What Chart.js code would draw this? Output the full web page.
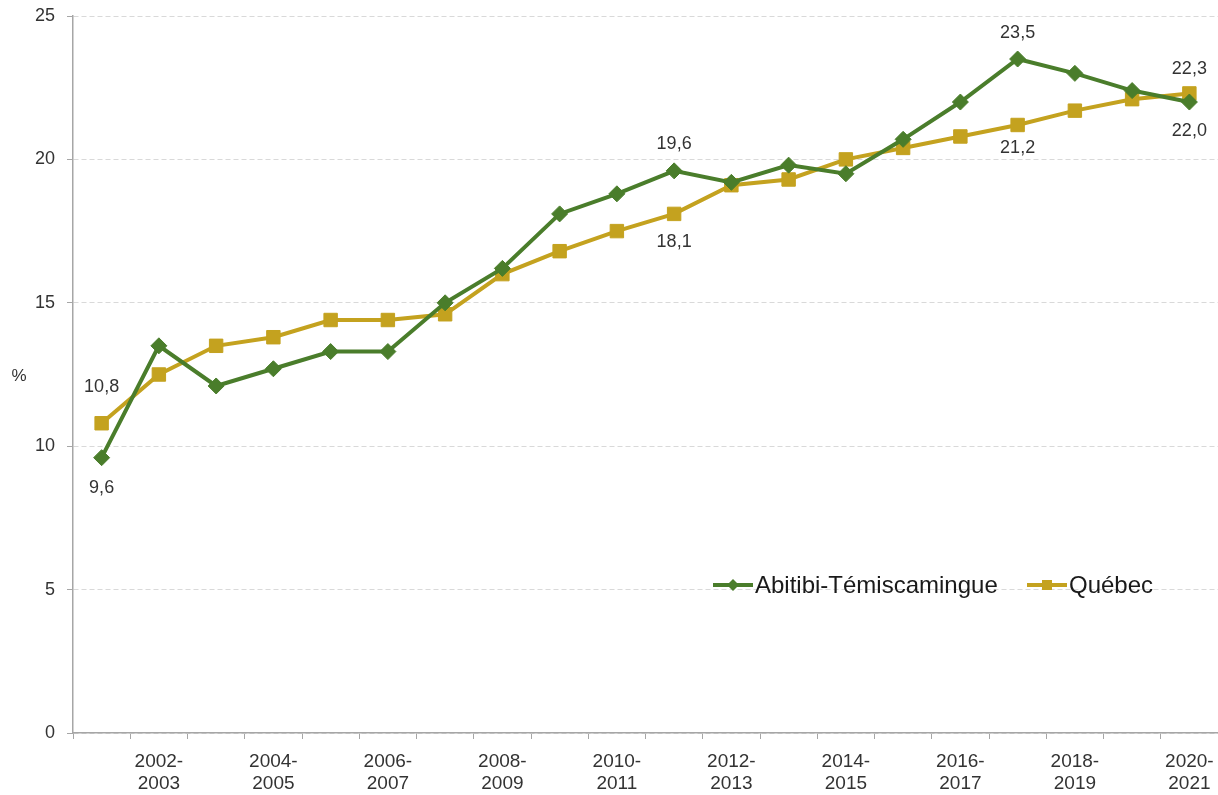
<!DOCTYPE html>
<html>
<head>
<meta charset="utf-8">
<script src="https://cdn.jsdelivr.net/npm/chart.js@4.4.0/dist/chart.umd.min.js"></script>
<style>
  body { margin: 0; background: #fff; }
  #wrap { position: relative; width: 1218px; height: 795px; }
</style>
</head>
<body>
<div id="wrap"><canvas id="chart"></canvas></div>
<script>
const periods = [
  '2001-2002', '2002-2003', '2003-2004', '2004-2005', '2005-2006',
  '2006-2007', '2007-2008', '2008-2009', '2009-2010', '2010-2011',
  '2011-2012', '2012-2013', '2013-2014', '2014-2015', '2015-2016',
  '2016-2017', '2017-2018', '2018-2019', '2019-2020', '2020-2021'
];
const abitibi = [9.6, 13.5, 12.1, 12.7, 13.3, 13.3, 15.0, 16.2, 18.1, 18.8,
                 19.6, 19.2, 19.8, 19.5, 20.7, 22.0, 23.5, 23.0, 22.4, 22.0];
const quebec = [10.8, 12.5, 13.5, 13.8, 14.4, 14.4, 14.6, 16.0, 16.8, 17.5,
                18.1, 19.1, 19.3, 20.0, 20.4, 20.8, 21.2, 21.7, 22.1, 22.3];
const seriesNames = ['Abitibi-Témiscamingue', 'Québec'];
const yTitle = '%';

const GREEN = '#4a7d2b';
const GOLD = '#c4a21f';
const AXIS = '#a6a6a6';
const TEXT = '#333333';
const FONT = "'Liberation Sans', Arial, sans-serif";

// which points get a value label, and how far above/below
const valueLabels = [
  { ds: 1, i: 0, dy: -36 },
  { ds: 0, i: 0, dy: 30 },
  { ds: 0, i: 10, dy: -27 },
  { ds: 1, i: 10, dy: 28 },
  { ds: 0, i: 16, dy: -26 },
  { ds: 1, i: 16, dy: 23 },
  { ds: 1, i: 19, dy: -24 },
  { ds: 0, i: 19, dy: 29 }
];

const extras = {
  id: 'extras',
  afterDatasetsDraw(chart) {
    const ctx = chart.ctx;
    ctx.save();
    ctx.fillStyle = TEXT;
    ctx.font = '18px ' + FONT;
    ctx.textAlign = 'center';
    ctx.textBaseline = 'middle';
    valueLabels.forEach(l => {
      const pt = chart.getDatasetMeta(l.ds).data[l.i];
      const v = chart.data.datasets[l.ds].data[l.i];
      ctx.fillText(v.toFixed(1).replace('.', ','), pt.x, pt.y + l.dy);
    });

    // y title, horizontal
    ctx.font = '17px ' + FONT;
    ctx.fillText(yTitle, 19, (chart.chartArea.top + chart.chartArea.bottom) / 2 + 2);

    // legend inside the plot
    const ly = 585;
    const items = [
      { x: 713, color: GREEN, shape: 'diamond', text: seriesNames[0] },
      { x: 1027, color: GOLD, shape: 'square', text: seriesNames[1] }
    ];
    items.forEach(it => {
      ctx.strokeStyle = it.color;
      ctx.fillStyle = it.color;
      ctx.lineWidth = 4;
      ctx.beginPath();
      ctx.moveTo(it.x, ly);
      ctx.lineTo(it.x + 40, ly);
      ctx.stroke();
      const cx = it.x + 20;
      ctx.beginPath();
      if (it.shape === 'diamond') {
        ctx.moveTo(cx, ly - 6);
        ctx.lineTo(cx + 6, ly);
        ctx.lineTo(cx, ly + 6);
        ctx.lineTo(cx - 6, ly);
        ctx.closePath();
      } else {
        ctx.rect(cx - 5, ly - 5, 10, 10);
      }
      ctx.fill();
      ctx.fillStyle = '#1a1a1a';
      ctx.font = '24px ' + FONT;
      ctx.textAlign = 'left';
      ctx.fillText(it.text, it.x + 42, ly + 1);
    });
    ctx.restore();
  }
};

new Chart(document.getElementById('chart'), {
  type: 'line',
  data: {
    labels: periods,
    datasets: [
      {
        label: seriesNames[0],
        data: abitibi,
        borderColor: GREEN,
        backgroundColor: GREEN,
        borderWidth: 4,
        pointStyle: 'rectRot',
        pointRadius: 8,
        pointBorderWidth: 1,
        tension: 0
      },
      {
        label: seriesNames[1],
        data: quebec,
        borderColor: GOLD,
        backgroundColor: GOLD,
        borderWidth: 4,
        pointStyle: 'rect',
        pointRadius: 9.5,
        pointBorderWidth: 1,
        tension: 0
      }
    ]
  },
  options: {
    responsive: true,
    maintainAspectRatio: false,
    animation: false,
    layout: { autoPadding: false, padding: { top: 16, right: 0, left: 0, bottom: 0 } },
    plugins: {
      legend: { display: false },
      tooltip: { enabled: false }
    },
    scales: {
      x: {
        offset: true,
        grid: {
          offset: true,
          drawOnChartArea: false,
          tickLength: 6,
          tickColor: AXIS
        },
        border: { color: AXIS, width: 1.5 },
        ticks: {
          autoSkip: false,
          maxRotation: 0,
          padding: 11,
          color: TEXT,
          font: { family: FONT, size: 19, lineHeight: 1.2 },
          callback: function (val, idx) {
            if (idx % 2 === 0) return '';
            const p = periods[idx].split('-');
            return [p[0] + '-', p[1]];
          }
        },
        afterFit(scale) {
          scale.height = 62;
          scale.paddingLeft = 0;
          scale.paddingRight = 0;
        }
      },
      y: {
        min: 0,
        max: 25,
        grid: {
          color: '#d9d9d9',
          tickLength: 6,
          tickColor: AXIS
        },
        border: { color: AXIS, width: 1.5, dash: [5, 3] },
        ticks: {
          stepSize: 5,
          padding: 12,
          color: TEXT,
          font: { family: FONT, size: 18 }
        },
        afterFit(scale) {
          scale.width = 73;
          scale.paddingTop = 0;
          scale.paddingBottom = 0;
        }
      }
    }
  },
  plugins: [extras]
});
</script>
</body>
</html>
